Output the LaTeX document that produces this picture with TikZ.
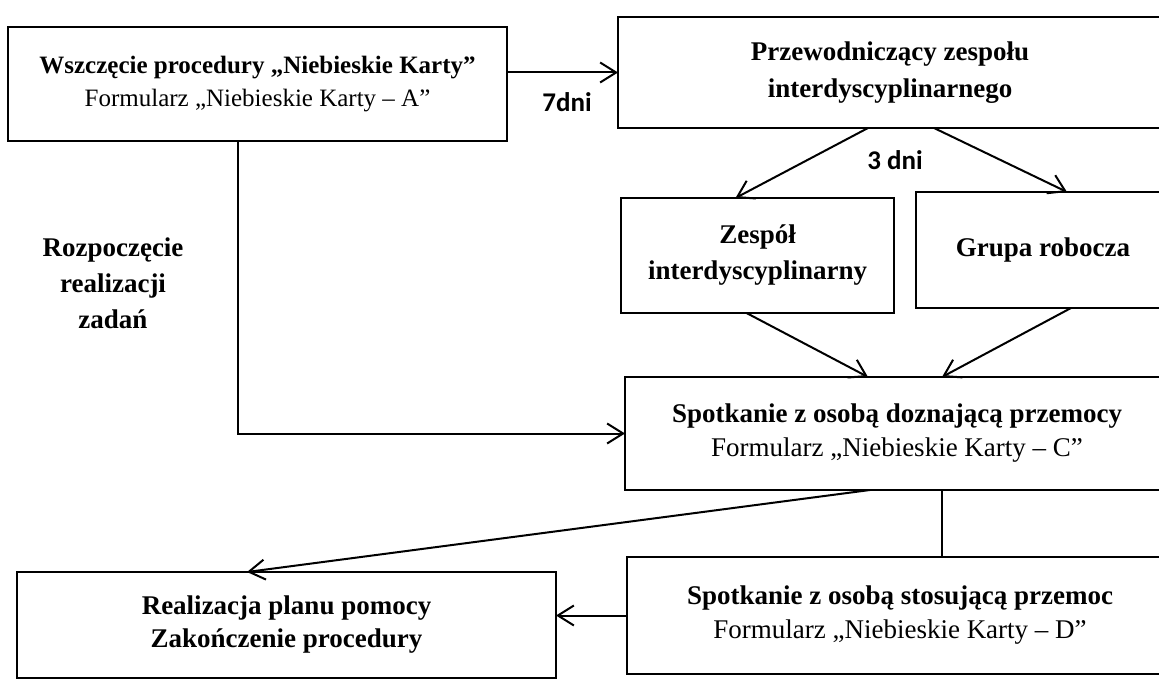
\documentclass[tikz,border=0pt]{standalone}
\usepackage{fontspec}
\setmainfont{Liberation Serif}
\newfontfamily\dnifont{Carlito}
\usetikzlibrary{arrows.meta,calc}
\begin{document}
\begin{tikzpicture}[x=0.5pt, y=-0.5pt,
  box/.style={draw, line width=1pt, inner sep=0pt, outer sep=0pt, align=center,
    font=\fontsize{13.5}{17}\selectfont},
  days/.style={font=\dnifont\bfseries\fontsize{13.5}{16}\selectfont},
  arr/.style={-{Straight Barb[length=8pt,width=10pt]}, line width=1pt}]
  \useasboundingbox (0,0) rectangle (1159,683);
  \clip (0,0) rectangle (1159,683);
  \node[box, minimum width=249.5pt, minimum height=57pt,
    font=\fontsize{12.5}{16.5}\selectfont] (wszczecie) at (257.5,84)
    {\textbf{Wszczęcie procedury „Niebieskie Karty”}\\Formularz „Niebieskie Karty – A”};
  \node[box, minimum width=272pt, minimum height=55.5pt,
    font=\fontsize{13.5}{18.5}\selectfont\bfseries] (przew) at (890,72.5)
    {Przewodniczący zespołu\\interdyscyplinarnego};
  \node[box, minimum width=136.5pt, minimum height=57.5pt,
    font=\fontsize{13.5}{18}\selectfont\bfseries] (zespol) at (757.5,255.5)
    {Zespół\\interdyscyplinarny};
  \node[box, minimum width=127pt, minimum height=58pt, font=\fontsize{13.5}{17}\selectfont\bfseries]
    (grupa) at (1043,250) {Grupa robocza};
  \node[box, minimum width=272pt, minimum height=56.5pt] (spotkC) at (897,433.5)
    {\textbf{Spotkanie z osobą doznającą przemocy}\\Formularz „Niebieskie Karty – C”};
  \node[box, minimum width=273pt, minimum height=58.5pt] (spotkD) at (900,615.5)
    {\textbf{Spotkanie z osobą stosującą przemoc}\\Formularz „Niebieskie Karty – D”};
  \node[box, minimum width=269.5pt, minimum height=53pt,
    font=\fontsize{13.5}{16.5}\selectfont\bfseries] (realiz) at (286.5,625)
    {Realizacja planu pomocy\\Zakończenie procedury};
  \node[align=center, font=\fontsize{13.5}{18}\selectfont\bfseries] (rozpocz) at (113,283)
    {Rozpoczęcie\\realizacji\\zadań};
  \node[days] (siedem) at (567,102) {7dni};
  \node[days] (trzy) at (895,160) {3 dni};
  \draw[arr] (wszczecie.east |- przew.west) -- (przew.west);
  \draw[arr] ($(przew.south)+(-22,0)$) -- ($(zespol.north)+(-22,0)$);
  \draw[arr] ($(przew.south)+(44,0)$) -- ($(grupa.north)+(24,0)$);
  \draw[arr] ($(zespol.south)+(-11,0)$) -- ($(spotkC.north)+(-29,0)$);
  \draw[arr] ($(grupa.south)+(28,0)$) -- ($(spotkC.north)+(45,0)$);
  \draw[arr] ($(wszczecie.south)+(-20,0)$) |- (spotkC.west);
  \draw[arr] ($(spotkC.south)+(-27,0)$) -- ($(realiz.north)+(-39.5,0)$);
  \coordinate (cd) at ($(spotkC.south)+(45,0)$);
  \draw[line width=1pt] (cd) -- (cd |- spotkD.north);
  \draw[arr] (spotkD.west) -- (spotkD.west -| realiz.east);
\end{tikzpicture}
\end{document}
